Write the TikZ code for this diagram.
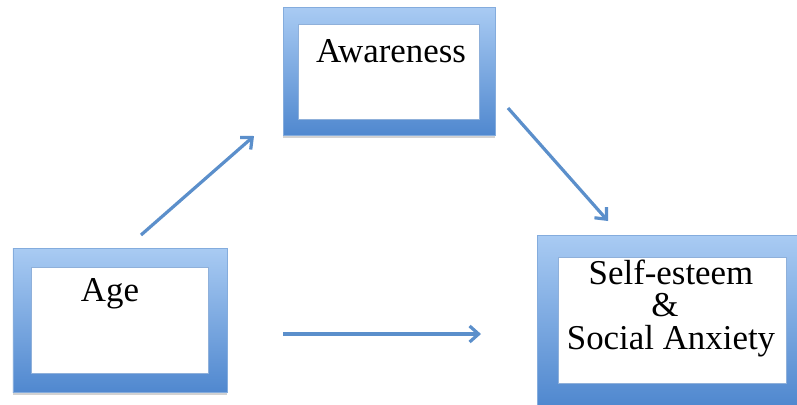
\documentclass[tikz,border=0pt]{standalone}
\usepackage{fontspec}
\setmainfont{Liberation Serif}
\usetikzlibrary{arrows.meta,shadows}
\definecolor{frametop}{HTML}{A9CBF3}
\definecolor{framebot}{HTML}{5088CF}
\definecolor{arrowblue}{HTML}{5B8FCB}
\definecolor{innerline}{HTML}{8FB0DA}
\tikzset{
  outerbox/.style={draw=framebot!70, line width=0.6bp, top color=frametop, bottom color=framebot,
    inner sep=0pt, drop shadow={shadow xshift=0bp, shadow yshift=-2.5bp, opacity=0.35}},
  innerbox/.style={draw=innerline, line width=0.6bp, fill=white, inner sep=0pt},
  lbl/.style={font=\fontsize{35}{32.5}\selectfont, anchor=base, inner sep=0pt},
  conn/.style={draw=arrowblue, line width=3.2bp, -{Straight Barb[length=9bp,width=16bp,line width=3.2bp]}}
}
\begin{document}
\begin{tikzpicture}[x=1bp,y=-1bp]
\useasboundingbox (0,0) rectangle (797,404);
\clip (0,0) rectangle (797,404);
\fill[white] (0,0) rectangle (797,404);
% boxes
\node[outerbox, minimum width=212bp, minimum height=128bp] (awo) at (389,71) {};
\node[innerbox, minimum width=181bp, minimum height=95bp] (awi) at (388.5,71.5) {};
\node[outerbox, minimum width=214bp, minimum height=144bp] (ageo) at (120,320) {};
\node[innerbox, minimum width=177bp, minimum height=106bp] (agei) at (119.5,320) {};
\node[outerbox, minimum width=270bp, minimum height=170bp] (seo) at (672,320) {};
\node[innerbox, minimum width=228bp, minimum height=126bp] (sei) at (672,320) {};
% labels
\node[lbl] (t1) at (391,62) {Awareness};
\node[lbl] (t2) at (110,301) {Age};
\node[lbl, align=center] (t3) at (671,349) {Self-esteem\\\hspace*{-12bp}\&\\Social Anxiety};
% connector ends
\coordinate (a1s) at (141,235);
\coordinate (a1e) at (254,136);
\coordinate (a2s) at (508,108);
\coordinate (a2e) at (608,221);
\coordinate (a3s) at (283,334);
\coordinate (a3e) at (481,334);
\draw[conn] (a1s) -- (a1e);
\draw[conn] (a2s) -- (a2e);
\draw[conn] (a3s) -- (a3e);
\end{tikzpicture}
\end{document}
